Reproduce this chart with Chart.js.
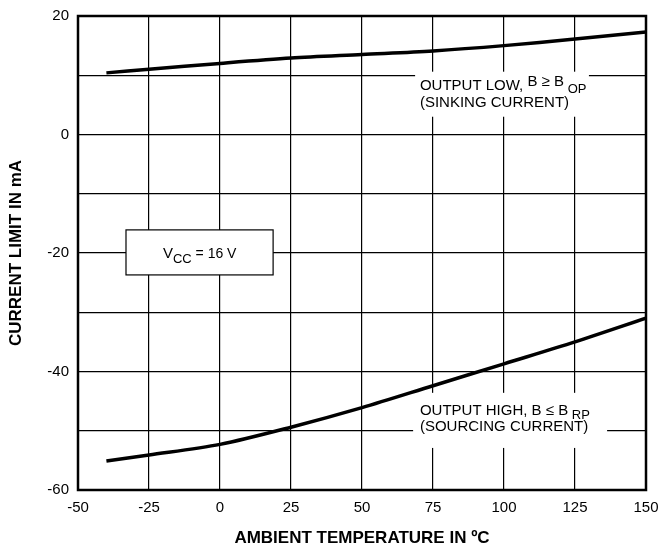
<!DOCTYPE html>
<html>
<head>
<meta charset="utf-8">
<script src="https://cdn.jsdelivr.net/npm/chart.js@4.4.0/dist/chart.umd.min.js"></script>
<style>
  body { margin: 0; background: #fff; }
  #wrap { width: 660px; height: 550px; }
</style>
</head>
<body>
<div id="wrap"><canvas id="chart"></canvas></div>
<script>
// values, mA vs ambient temperature
const temps = [-40, -25, 0, 25, 50, 75, 100, 125, 150];
const sinking = [10.4, 11.0, 12.0, 12.9, 13.5, 14.1, 15.0, 16.1, 17.3];
const sourcing = [-55.1, -54.1, -52.3, -49.4, -46.1, -42.4, -38.7, -35.0, -31.0];

const xTicks = [-50, -25, 0, 25, 50, 75, 100, 125, 150];
const yLabels = [-60, -40, -20, 0, 20];

const FONT = "'Liberation Sans', Arial, sans-serif";
Chart.defaults.font.family = FONT;
Chart.defaults.color = '#000';

function pts(ys) {
  return temps.map((t, i) => ({ x: t, y: ys[i] }));
}

// draw a run of text pieces, each with its own font and vertical shift
function runText(ctx, x, y, parts) {
  let cx = x;
  parts.forEach(([txt, size, dy]) => {
    ctx.font = size + 'px ' + FONT;
    ctx.fillText(txt, cx, y + dy);
    cx += ctx.measureText(txt).width;
  });
}

const notes = {
  id: 'notes',
  beforeDatasetsDraw(chart) {
    const { ctx, scales: { x, y } } = chart;
    const px = v => x.getPixelForValue(v);
    const py = v => y.getPixelForValue(v);
    ctx.save();

    // white patches behind the curve labels
    ctx.fillStyle = '#fff';
    ctx.fillRect(px(68.7), py(10.6), px(129.9) - px(68.7), py(3.0) - py(10.6));
    ctx.fillRect(px(68), py(-43.6), px(136.3) - px(68), py(-52.9) - py(-43.6));

    // VCC box
    const bx = px(-33.1), by = py(-16.1);
    const bw = px(18.7) - bx, bh = py(-23.7) - by;
    ctx.fillRect(bx, by, bw, bh);
    ctx.strokeStyle = '#000';
    ctx.lineWidth = 1.2;
    ctx.strokeRect(bx, by, bw, bh);

    ctx.fillStyle = '#000';
    ctx.textAlign = 'left';
    ctx.textBaseline = 'alphabetic';

    runText(ctx, px(-20.1), py(-20.85), [['V', 15, 0], ['CC', 13, 5], [' = 16 V', 14, 0]]);

    runText(ctx, px(70.4), py(7.5), [['OUTPUT LOW, ', 15, 0], ['B \u2265 B', 15, -4], [' OP', 13, 3]]);
    runText(ctx, px(70.4), py(4.64), [['(SINKING CURRENT)', 15, 0]]);

    runText(ctx, px(70.4), py(-47.3), [['OUTPUT HIGH, B \u2264 B', 15, 0], [' RP', 13, 4]]);
    runText(ctx, px(70.4), py(-50.1), [['(SOURCING CURRENT)', 15, 0]]);

    ctx.restore();
  },
  afterDraw(chart) {
    const { ctx, chartArea: a } = chart;
    ctx.save();
    ctx.strokeStyle = '#000';
    ctx.lineWidth = 2.5;
    ctx.strokeRect(a.left, a.top, a.right - a.left, a.bottom - a.top);
    ctx.restore();
  }
};

new Chart(document.getElementById('chart'), {
  type: 'line',
  data: {
    datasets: [
      { data: pts(sinking), borderColor: '#000', borderWidth: 3.5, pointRadius: 0, tension: 0.3 },
      { data: pts(sourcing), borderColor: '#000', borderWidth: 3.5, pointRadius: 0, tension: 0.3 }
    ]
  },
  options: {
    responsive: true,
    maintainAspectRatio: false,
    animation: false,
    layout: { padding: { top: 16, right: 14, left: 0, bottom: 0 } },
    plugins: { legend: { display: false }, tooltip: { enabled: false } },
    scales: {
      x: {
        type: 'linear',
        min: -50,
        max: 150,
        afterFit: s => { s.height = 60; s.paddingLeft = 0; s.paddingRight = 0; },
        afterBuildTicks: s => { s.ticks = xTicks.map(v => ({ value: v })); },
        grid: { color: '#000', lineWidth: 1.2, drawTicks: false },
        border: { display: false },
        ticks: { font: { size: 15 }, padding: 9, maxRotation: 0 },
        title: {
          display: true,
          text: 'AMBIENT TEMPERATURE IN ºC',
          font: { size: 17, weight: 'bold' },
          padding: { top: 0, bottom: 1 }
        }
      },
      y: {
        min: -60,
        max: 20,
        afterFit: s => { s.width = 78; s.paddingTop = 0; s.paddingBottom = 0; },
        ticks: {
          stepSize: 10,
          font: { size: 15 },
          padding: 9,
          callback: v => yLabels.includes(v) ? v : ''
        },
        grid: { color: '#000', lineWidth: 1.2, drawTicks: false },
        border: { display: false },
        title: {
          display: true,
          text: 'CURRENT LIMIT IN mA',
          font: { size: 17, weight: 'bold' },
          padding: { top: 6, bottom: 0 }
        }
      }
    }
  },
  plugins: [notes]
});
</script>
</body>
</html>
